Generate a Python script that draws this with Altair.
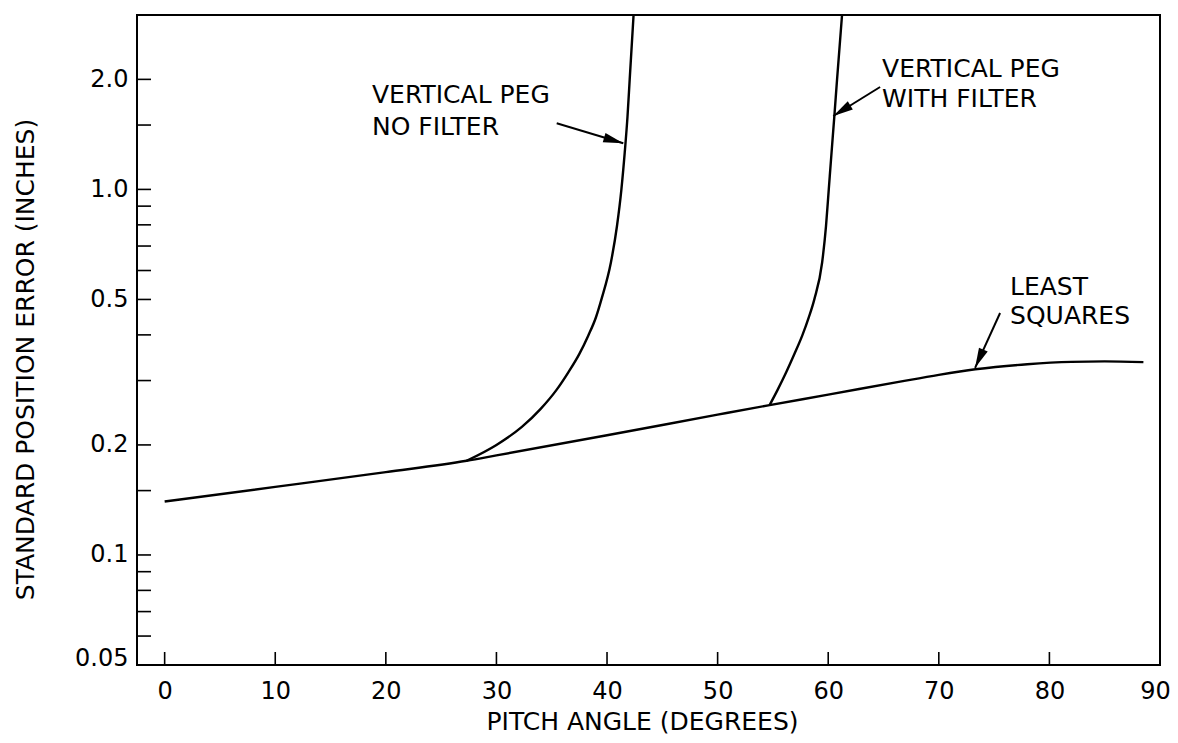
import altair as alt
import pandas as pd

# ---------------- data ----------------
ls_deg = [0, 10, 20, 27.3, 30, 40, 50, 54.7, 60, 66.5, 70, 73.3, 78, 82, 85, 88.5]
ls_val = [0.140, 0.1535, 0.1685, 0.181, 0.1872, 0.2125, 0.242, 0.257, 0.2745, 0.298,
          0.311, 0.322, 0.3325, 0.3375, 0.3385, 0.337]

nf_deg = [27.3, 30.0, 32.3, 34.0, 35.4, 36.5, 37.5, 38.3, 39.0, 39.5, 40.35, 40.9, 41.3, 41.6, 41.85, 42.05, 42.4]
nf_val = [0.181, 0.20, 0.224, 0.251, 0.282, 0.316, 0.355, 0.398, 0.447, 0.501, 0.631, 0.794, 1.0, 1.26, 1.58, 2.0, 3.0]

wf_deg = [54.7, 55.4, 56.2, 56.95, 57.65, 58.25, 58.75, 59.45, 59.8, 60.05, 60.3, 60.55, 60.8, 61.25]
wf_val = [0.257, 0.282, 0.316, 0.355, 0.398, 0.447, 0.501, 0.631, 0.794, 1.0, 1.26, 1.58, 2.0, 3.0]

x_tick_values = [0, 10, 20, 30, 40, 50, 60, 70, 80, 90]
y_major = [0.05, 0.1, 0.2, 0.5, 1.0, 2.0]
y_labels = ["0.05", "0.1", "0.2", "0.5", "1.0", "2.0"]
y_minor = [0.06, 0.07, 0.08, 0.09, 0.15, 0.3, 0.4, 0.6, 0.7, 0.8, 0.9, 1.5]

ann_text = ["VERTICAL  PEG", "NO FILTER", "VERTICAL PEG", "WITH FILTER", "LEAST", "SQUARES"]
ann_deg = [18.75, 18.75, 64.87, 64.87, 76.44, 76.44]
ann_val = [1.72, 1.41, 2.03, 1.68, 0.514, 0.428]

arr_deg = [35.45, 64.69, 75.54]
arr_val = [1.517, 1.906, 0.459]
arr_deg2 = [41.47, 60.46, 73.28]
arr_val2 = [1.337, 1.588, 0.325]
arr_angle = [106.7, 238.2, 204.4]

# ---------------- tables ----------------
lines = pd.concat([
    pd.DataFrame({"series": "Least squares", "deg": ls_deg, "val": ls_val}),
    pd.DataFrame({"series": "Vertical peg, no filter", "deg": nf_deg, "val": nf_val}),
    pd.DataFrame({"series": "Vertical peg, with filter", "deg": wf_deg, "val": wf_val}),
])
xticks = pd.DataFrame({"deg": x_tick_values})
yticks = pd.DataFrame({"val": y_major + y_minor})
ann = pd.DataFrame({"label": ann_text, "deg": ann_deg, "val": ann_val})
arrows = pd.DataFrame({"deg": arr_deg, "val": arr_val, "deg2": arr_deg2,
                       "val2": arr_val2, "angle": arr_angle})

xs = alt.Scale(domain=[-2.5, 90], nice=False, zero=False)
ys = alt.Scale(type="log", domain=[0.05, 3.0], nice=False)

label_expr = "[" + ",".join("'%s'" % s for s in y_labels) + "][indexof([" + \
    ",".join(str(v) for v in y_major) + "], datum.value)]"

FONT = "DejaVu Sans"

X = alt.X("deg:Q", scale=xs, axis=alt.Axis(
    values=x_tick_values, title="PITCH ANGLE (DEGREES)",
    labelBaseline="alphabetic", labelPadding=33,
    labelOffset={"condition": {"test": "datum.value >= 90", "value": -5}, "value": 0},
    titleX=505, titleY=64, titleBaseline="alphabetic", titleAlign="center"))
Y = alt.Y("val:Q", scale=ys, axis=alt.Axis(
    values=y_major, labelExpr=label_expr, title="STANDARD POSITION ERROR (INCHES)",
    labelPadding=9,
    labelBaseline={"condition": {"test": "datum.value < 0.06", "value": "alphabetic"},
                   "value": "middle"},
    titleX=-104, titleY=344, titleAngle=270, titleBaseline="alphabetic",
    titleAlign="center"))

curves = alt.Chart(lines).mark_line(color="black", strokeWidth=2.4, clip=True,
                                    interpolate="monotone").encode(
    x=X, y=Y, detail="series:N",
)

xtick_rules = alt.Chart(xticks).mark_rule(color="black", strokeWidth=1.6).encode(
    x=X, y=alt.value(650), y2=alt.value(637),
)
ytick_rules = alt.Chart(yticks).mark_rule(color="black", strokeWidth=1.6).encode(
    y=Y, x=alt.value(0), x2=alt.value(14),
)

texts = alt.Chart(ann).mark_text(align="left", baseline="alphabetic", fontSize=25,
                                 font=FONT, color="black").encode(
    x=X, y=Y, text="label:N",
)

shafts = alt.Chart(arrows).mark_rule(color="black", strokeWidth=2).encode(
    x=X, y=Y, x2="deg2:Q", y2="val2:Q",
)
heads = alt.Chart(arrows).mark_point(shape="M0,0 L-0.24,1 L0.24,1 Z", filled=True,
                                     size=1600, color="black", opacity=1).encode(
    x=alt.X("deg2:Q", scale=xs, axis=alt.Axis(values=x_tick_values, title="PITCH ANGLE (DEGREES)")),
    y=alt.Y("val2:Q", scale=ys, axis=alt.Axis(values=y_major, title="STANDARD POSITION ERROR (INCHES)")),
    angle=alt.Angle("angle:Q", scale=None),
)

chart = alt.layer(curves, xtick_rules, ytick_rules, texts, shafts, heads).properties(
    width=1023, height=650,
    autosize=alt.AutoSizeParams(type="none"),
    padding={"left": 129, "top": 7, "right": 10, "bottom": 72},
).configure(
    font=FONT, background="white"
).configure_view(
    stroke="black", strokeWidth=2
).configure_axis(
    grid=False, domain=False, ticks=False, tickSize=0,
    labelFont=FONT, labelFontSize=24, labelColor="black", labelOverlap=False,
    labelFlush=False, labelBound=False,
    titleFont=FONT, titleFontSize=25, titleFontWeight="normal", titleColor="black",
)

chart.save("out.html", embed_options={"renderer": "svg", "actions": False})
